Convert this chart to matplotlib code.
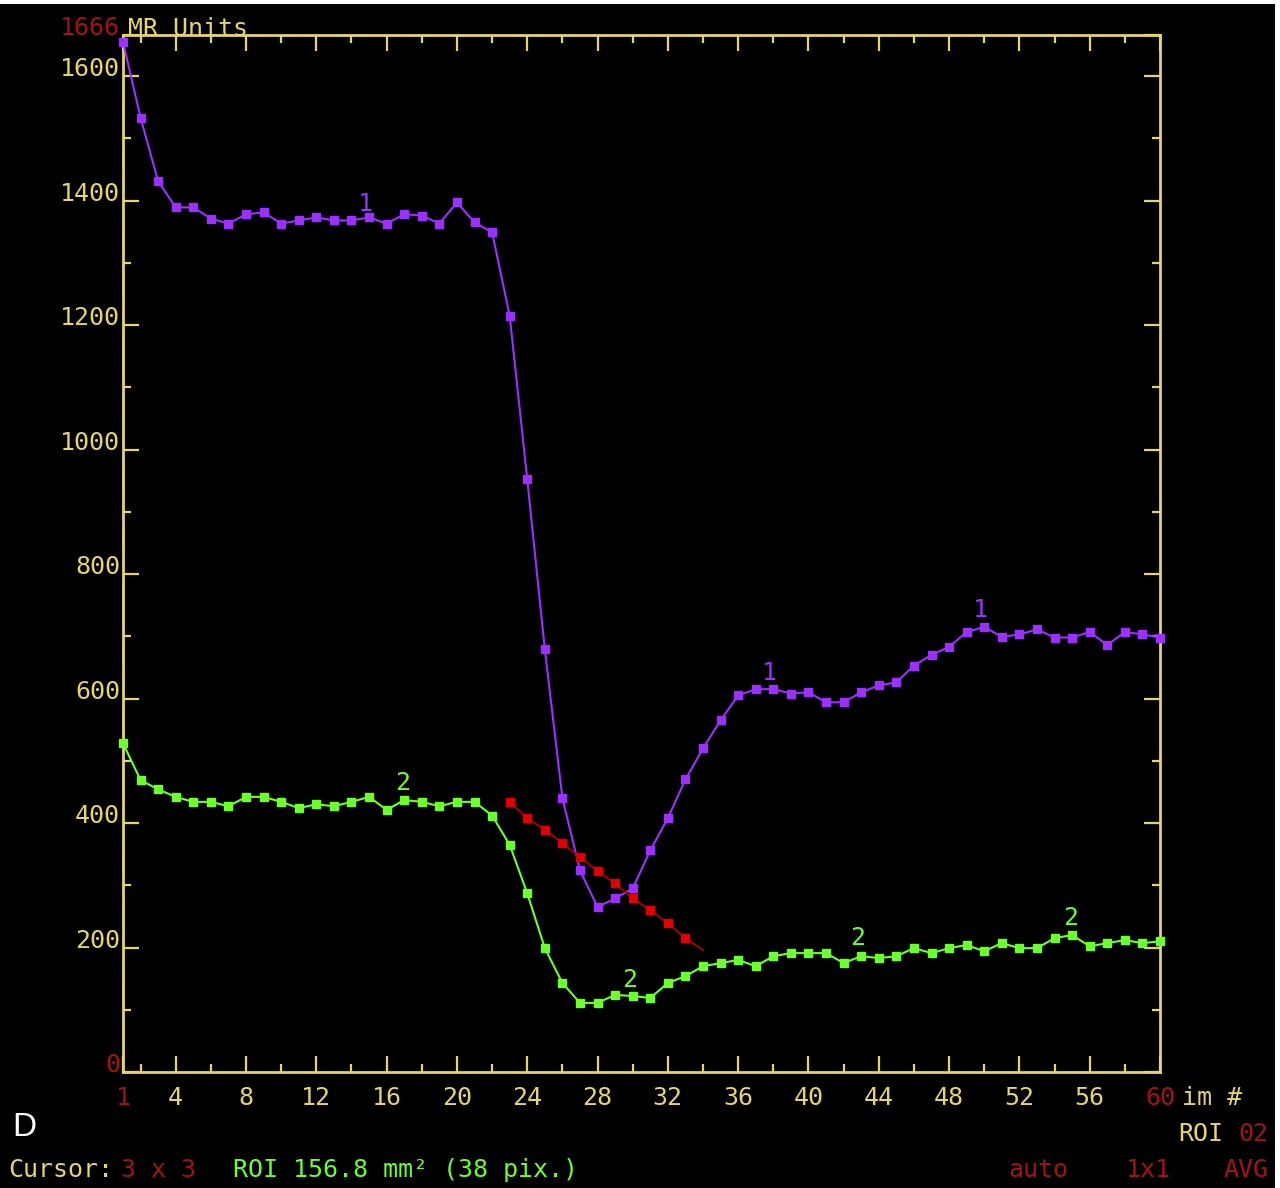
"""
Signal-intensity time curve (MR perfusion), two ROIs plus a fitted slope.
"""

import matplotlib
matplotlib.use("Agg")
import matplotlib.pyplot as plt
from matplotlib.patches import Rectangle

# ── Data ──────────────────────────────────────────────────────────────────────

frames = list(range(1, 61))

roi1 = [1655, 1533, 1431, 1389, 1389, 1371, 1363, 1378, 1381, 1363,
        1368, 1373, 1368, 1368, 1373, 1363, 1378, 1376, 1363, 1397,
        1365, 1349, 1215, 952, 679, 440, 324, 265, 279, 295,
        356, 408, 470, 520, 565, 605, 615, 615, 608, 610,
        594, 594, 610, 621, 626, 653, 670, 683, 707, 715,
        699, 703, 711, 698, 698, 707, 686, 707, 703, 698]

roi2 = [528, 469, 454, 442, 434, 434, 427, 442, 442, 434,
        424, 430, 427, 434, 442, 421, 437, 434, 427, 434,
        434, 412, 365, 287, 199, 143, 111, 111, 124, 122,
        119, 143, 154, 170, 175, 180, 170, 186, 191, 191,
        191, 175, 186, 183, 186, 199, 191, 199, 204, 194,
        207, 199, 199, 215, 220, 202, 207, 212, 207, 210]

fit_frames = list(range(23, 35))
fit_values = [434, 408, 389, 368, 345, 323, 303, 279, 260, 239, 215, 196]

# curve labels drawn next to the lines
roi1_tag_x = [14.8, 37.8, 49.8]
roi1_tag_y = [1395, 641, 742]
roi2_tag_x = [16.9, 29.8, 42.8, 54.9]
roi2_tag_y = [464, 148, 215, 247]

y_major = [0, 200, 400, 600, 800, 1000, 1200, 1400, 1600, 1666]
y_labels = ["0", "200", "400", "600", "800", "1000", "1200", "1400", "1600", "1666"]
y_minor = [100, 300, 500, 700, 900, 1100, 1300, 1500]

x_major = [1, 4, 8, 12, 16, 20, 24, 28, 32, 36, 40, 44, 48, 52, 56, 60]
x_minor = [2, 6, 10, 14, 18, 22, 26, 30, 34, 38, 42, 46, 50, 54, 58]

# ── Style ─────────────────────────────────────────────────────────────────────

YELLOW   = "#E6D46C"
DARK_RED = "#A51212"
PURPLE   = "#9B30FF"
GREEN    = "#6CFF2E"
RED      = "#E00000"
MONO     = "DejaVu Sans Mono"

W, H = 1280, 1188


def px(x, y):
    """Pixel position (from top-left) -> figure fraction."""
    return x / W, 1 - y / H


fig = plt.figure(figsize=(W / 100, H / 100), dpi=100, facecolor="white")
fig.patches.append(Rectangle((0, 0), 1275 / W, 1184 / H, transform=fig.transFigure,
                             facecolor="black", edgecolor="none", zorder=-10))

ax = fig.add_axes([123 / W, 116 / H, 1037 / W, (1072 - 35) / H])
ax.set_facecolor("black")

# ── Curves ────────────────────────────────────────────────────────────────────

ax.plot(frames, roi1, color=PURPLE, linewidth=1.5, marker="s",
        markersize=5.5, clip_on=False, zorder=3)
ax.plot(frames, roi2, color=GREEN, linewidth=1.5, marker="s",
        markersize=5.5, clip_on=False, zorder=3)
ax.plot(fit_frames, fit_values, color="#B00000", linewidth=1.3, marker="s",
        markersize=5.5, markerfacecolor=RED, markeredgecolor=RED,
        markevery=list(range(len(fit_frames) - 1)), zorder=4)

for tx, ty in zip(roi1_tag_x, roi1_tag_y):
    ax.text(tx, ty, "1", color=PURPLE, fontsize=18, family=MONO,
            ha="center", va="center")
for tx, ty in zip(roi2_tag_x, roi2_tag_y):
    ax.text(tx, ty, "2", color=GREEN, fontsize=18, family=MONO,
            ha="center", va="center")

# ── Axes frame & ticks ────────────────────────────────────────────────────────

ax.set_xlim(1, 60)
ax.set_ylim(0, 1666)
for sp in ax.spines.values():
    sp.set_color(YELLOW)
    sp.set_linewidth(2)

ax.set_yticks(y_major)
ax.set_yticklabels(y_labels)
ax.set_yticks(y_minor, minor=True)
ax.set_xticks(x_major)
ax.set_xticklabels([str(v) for v in x_major])
ax.set_xticks(x_minor, minor=True)

ax.tick_params(which="both", direction="in", color=YELLOW, width=1.6,
               top=True, right=True, labelcolor=YELLOW, labelsize=18)
ax.tick_params(which="major", length=11.5)
ax.tick_params(which="minor", length=5.5)
ax.tick_params(axis="y", pad=2)
ax.tick_params(axis="x", pad=10)

for lbl in ax.get_yticklabels():
    lbl.set_family(MONO)
    lbl.set_va("baseline")
for lbl in ax.get_xticklabels():
    lbl.set_family(MONO)

ytl = ax.get_yticklabels()
ytl[0].set_color(DARK_RED)
ytl[-1].set_color(DARK_RED)
xtl = ax.get_xticklabels()
xtl[0].set_color(DARK_RED)
xtl[-1].set_color(DARK_RED)

# ── Screen annotations ────────────────────────────────────────────────────────

fig.text(*px(128, 36), "MR Units", color=YELLOW, fontsize=18, family=MONO,
         ha="left", va="baseline")
fig.text(*px(1182, 1098), "im #", color=YELLOW, fontsize=18, family=MONO,
         ha="left", va="center")
fig.text(*px(12, 1127), "D", color="white", fontsize=24,
         family="Liberation Sans", ha="left", va="center")

fig.text(*px(1178, 1134), "ROI", color=YELLOW, fontsize=18, family=MONO,
         ha="left", va="center")
fig.text(*px(1238, 1134), "02", color=DARK_RED, fontsize=18, family=MONO,
         ha="left", va="center")

fig.text(*px(8, 1170), "Cursor:", color=YELLOW, fontsize=18, family=MONO,
         ha="left", va="center")
fig.text(*px(121, 1170), "3 x 3", color=DARK_RED, fontsize=18, family=MONO,
         ha="left", va="center")
fig.text(*px(233, 1170), "ROI 156.8 mm² (38 pix.)", color=GREEN, fontsize=18,
         family=MONO, ha="left", va="center")

fig.text(*px(1008, 1170), "auto", color=DARK_RED, fontsize=18, family=MONO,
         ha="left", va="center")
fig.text(*px(1126, 1170), "1x1", color=DARK_RED, fontsize=18, family=MONO,
         ha="left", va="center")
fig.text(*px(1224, 1170), "AVG", color=DARK_RED, fontsize=18, family=MONO,
         ha="left", va="center")

fig.savefig("out.png", dpi=100, facecolor=fig.get_facecolor())
